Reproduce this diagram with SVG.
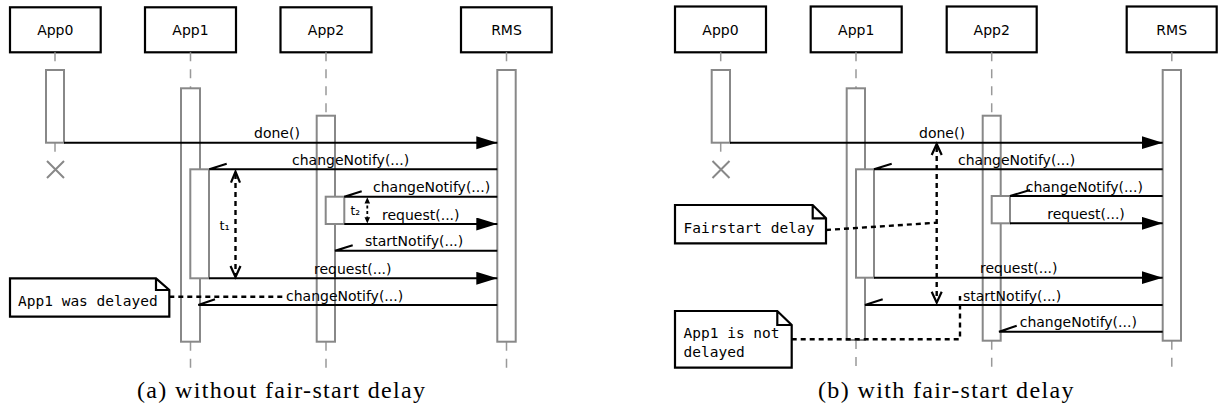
<svg xmlns="http://www.w3.org/2000/svg" width="1219" height="408" viewBox="0 0 1219 408">
<style>
.bg{fill:#fff}
.box{fill:#fff;stroke:#000;stroke-width:2.2}
.lbl{font-family:"DejaVu Sans",sans-serif;font-size:14px;fill:#000}
.life{stroke:#999;stroke-width:1.5;stroke-dasharray:9 8;fill:none}
.act{fill:#fff;stroke:#888;stroke-width:2}
.msg{stroke:#000;stroke-width:2;fill:none}
.call{marker-end:url(#filled)}
.dash{stroke:#000;stroke-width:2.4;stroke-dasharray:5 4;fill:none}
.vhead{stroke:#000;stroke-width:2.2;fill:none}
.kill{stroke:#888;stroke-width:2;fill:none}
.note{fill:#fff;stroke:#000;stroke-width:2.2}
.mono{font-family:"DejaVu Sans Mono",monospace;font-size:14.5px;fill:#000}
.small{font-family:"DejaVu Sans",sans-serif;font-size:13px;fill:#000}
.cap{font-family:"Liberation Serif",serif;font-size:24px;fill:#000}
</style>
<defs>
<marker id="filled" markerUnits="userSpaceOnUse" markerWidth="22" markerHeight="14" refX="21" refY="6.5" orient="auto">
<path d="M0,0 L21,6.5 L0,13 Z" fill="#000"/>
</marker>
</defs>
<rect class="bg" x="0" y="0" width="1219" height="408"/>

<!-- ===== Diagram (a) ===== -->
<g id="a-App0">
<rect class="box" x="10" y="7.3" width="90.7" height="45"/>
<text class="lbl" x="55.3" y="35.3" text-anchor="middle">App0</text>
<line class="life" x1="55" y1="52.3" x2="55" y2="70"/>
<line class="life" x1="55" y1="142.7" x2="55" y2="155"/>
<rect class="act" x="46" y="70" width="18" height="72.7"/>
<path class="kill" d="M47,161 L64,178 M64,161 L47,178"/>
</g>
<g id="a-App1">
<rect class="box" x="145" y="7.3" width="91" height="45"/>
<text class="lbl" x="190.5" y="35.3" text-anchor="middle">App1</text>
<line class="life" x1="190.5" y1="52.3" x2="190.5" y2="88.3"/>
<line class="life" x1="190.5" y1="341.7" x2="190.5" y2="368"/>
<rect class="act" x="181" y="88.3" width="19" height="253.4"/>
<rect class="act" x="190.3" y="169.3" width="18.7" height="109"/>
</g>
<g id="a-App2">
<rect class="box" x="280.5" y="7.3" width="91" height="45"/>
<text class="lbl" x="326" y="35.3" text-anchor="middle">App2</text>
<line class="life" x1="326" y1="52.3" x2="326" y2="115.7"/>
<line class="life" x1="326" y1="341.7" x2="326" y2="368"/>
<rect class="act" x="316.7" y="115.7" width="18.3" height="226"/>
<rect class="act" x="325.7" y="196.7" width="18.6" height="27.3"/>
</g>
<g id="a-RMS">
<rect class="box" x="461" y="7.3" width="90.7" height="45"/>
<text class="lbl" x="506.5" y="35.3" text-anchor="middle">RMS</text>
<line class="life" x1="506.5" y1="52.3" x2="506.5" y2="70"/>
<line class="life" x1="506.5" y1="341.7" x2="506.5" y2="368"/>
<rect class="act" x="497.3" y="70" width="18.4" height="271.7"/>
</g>
<g id="a-note">
<path class="note" d="M10,278.3 H156 L169.3,290 V316.7 H10 Z M156,278.3 V290 H169.3"/>
<text class="mono" x="18" y="306">App1 was delayed</text>
</g>
<g id="a-connectors">
<path class="msg call" d="M64,142.7 H497.3"/>
<text class="lbl" x="254" y="138.4">done()</text>
<path class="msg" d="M497.3,169.3 H209.3 L226.7,163.7"/>
<text class="lbl" x="292" y="165">changeNotify(...)</text>
<path class="msg" d="M497.3,196.7 H344.3 L361.7,191.2"/>
<text class="lbl" x="373" y="192.4">changeNotify(...)</text>
<path class="msg call" d="M344.3,224 H497.3"/>
<text class="lbl" x="382" y="219.7">request(...)</text>
<path class="msg" d="M497.3,250.7 H335 L352.7,245.3"/>
<text class="lbl" x="365" y="246.4">startNotify(...)</text>
<path class="msg call" d="M209,278.3 H497.3"/>
<text class="lbl" x="314" y="273.7">request(...)</text>
<path class="msg" d="M497.3,305 H198.3 L215,299.3"/>
<text class="lbl" x="286" y="300.7">changeNotify(...)</text>
<line class="dash" x1="235.5" y1="174" x2="235.5" y2="275"/>
<path class="vhead" d="M231,182.7 L235.5,171.7 L240,182.7 M230.5,266 L235.5,277 L240.5,266"/>
<text class="small" x="219.5" y="229.5">t₁</text>
<line class="dash" x1="367.3" y1="200" x2="367.3" y2="221" style="stroke-width:1.8;stroke-dasharray:3 2.5"/>
<path d="M364.5,203.5 L367.3,197.3 L370.1,203.5 Z M364.5,217.3 L367.3,223.5 L370.1,217.3 Z" fill="#000"/>
<text class="small" x="350.5" y="215" style="font-size:12px">t₂</text>
<line class="dash" x1="169.3" y1="296.7" x2="283" y2="296.7"/>
</g>
<text class="cap" x="137" y="398" textLength="288" lengthAdjust="spacing">(a) without fair-start delay</text>

<!-- ===== Diagram (b) ===== -->
<g id="b-App0">
<rect class="box" x="675" y="6.5" width="91" height="45.8"/>
<text class="lbl" x="720.5" y="35" text-anchor="middle">App0</text>
<line class="life" x1="720.7" y1="52.3" x2="720.7" y2="70"/>
<line class="life" x1="720.7" y1="142.7" x2="720.7" y2="155"/>
<rect class="act" x="711.7" y="70" width="18.3" height="72.7"/>
<path class="kill" d="M712.5,161 L729.5,178 M729.5,161 L712.5,178"/>
</g>
<g id="b-App1">
<rect class="box" x="810.7" y="6.5" width="91" height="45.8"/>
<text class="lbl" x="856.2" y="35" text-anchor="middle">App1</text>
<line class="life" x1="856" y1="52.3" x2="856" y2="88.3"/>
<line class="life" x1="856" y1="340" x2="856" y2="368"/>
<rect class="act" x="846.7" y="88.3" width="18.3" height="251.7"/>
<rect class="act" x="856" y="169.3" width="18" height="108.4"/>
</g>
<g id="b-App2">
<rect class="box" x="946.7" y="6.5" width="90" height="45.8"/>
<text class="lbl" x="991.7" y="35" text-anchor="middle">App2</text>
<line class="life" x1="991.7" y1="52.3" x2="991.7" y2="115.7"/>
<line class="life" x1="991.7" y1="340.7" x2="991.7" y2="368"/>
<rect class="act" x="982.7" y="115.7" width="18" height="225"/>
<rect class="act" x="991.7" y="196" width="18.3" height="27.3"/>
</g>
<g id="b-RMS">
<rect class="box" x="1126.7" y="6.5" width="90" height="45.8"/>
<text class="lbl" x="1171.7" y="35" text-anchor="middle">RMS</text>
<line class="life" x1="1171.8" y1="52.3" x2="1171.8" y2="70"/>
<line class="life" x1="1171.8" y1="340.7" x2="1171.8" y2="368"/>
<rect class="act" x="1162.7" y="70" width="18.3" height="270.7"/>
</g>
<g id="b-note1">
<path class="note" d="M675,205 H812.7 L826,218.3 V243.3 H675 Z M812.7,205 V218.3 H826"/>
<text class="mono" x="683.5" y="233.3">Fairstart delay</text>
</g>
<g id="b-note2">
<path class="note" d="M675,311 H777.3 L791.7,325 V367.7 H675 Z M777.3,311 V325 H791.7"/>
<text class="mono" x="683.5" y="338.3">App1 is not</text>
<text class="mono" x="683.5" y="356.7">delayed</text>
</g>
<g id="b-connectors">
<path class="msg call" d="M730,142.7 H1162.7"/>
<text class="lbl" x="919" y="138.4">done()</text>
<path class="msg" d="M1162.7,169.3 H874 L891.7,163.7"/>
<text class="lbl" x="958" y="165">changeNotify(...)</text>
<path class="msg" d="M1162.7,196 H1010 L1030,190"/>
<text class="lbl" x="1025.7" y="191.7">changeNotify(...)</text>
<path class="msg call" d="M1010,223.3 H1162.7"/>
<text class="lbl" x="1047.3" y="219">request(...)</text>
<path class="msg call" d="M874,277.7 H1162.7"/>
<text class="lbl" x="980" y="273.4">request(...)</text>
<path class="msg" d="M1162.7,305 H865 L882.7,299.3"/>
<text class="lbl" x="963" y="300.7">startNotify(...)</text>
<path class="msg" d="M1162.7,331.7 H999 L1016.7,325.7"/>
<text class="lbl" x="1019.7" y="327.4">changeNotify(...)</text>
<line class="dash" x1="936.7" y1="147" x2="936.7" y2="300"/>
<path class="vhead" d="M931.7,155 L936.7,144 L941.7,155 M931.7,291.7 L936.7,302.7 L941.7,291.7"/>
<path class="dash" d="M826,230 L936.7,222.7"/>
<path class="dash" d="M791.7,339.3 H960 V296"/>
</g>
<text class="cap" x="818" y="398" textLength="255.5" lengthAdjust="spacing">(b) with fair-start delay</text>
</svg>
